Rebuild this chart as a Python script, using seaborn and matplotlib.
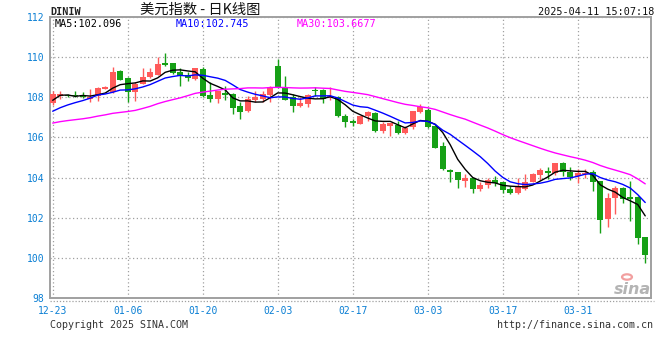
import numpy as np
import pandas as pd
import matplotlib.pyplot as plt
import seaborn as sns
from matplotlib.lines import Line2D
from matplotlib.patches import Circle

# DINIW daily candles, 2024-12-23 .. 2025-04-11 (80 sessions)
opens = [107.73, 108.05, 108.12, 108.12, 108.10, 107.93, 108.08, 108.43, 108.25, 109.30,
         108.95, 108.25, 108.67, 109.00, 109.12, 109.72, 109.70, 109.25, 109.12, 108.92,
         109.42, 108.12, 107.92, 108.20, 108.17, 107.58, 107.33, 107.88, 107.92, 108.13,
         109.58, 108.47, 108.00, 107.58, 107.67, 108.38, 108.38, 107.95, 108.00, 107.05,
         106.83, 106.67, 107.05, 107.22, 106.33, 106.55, 106.63, 106.22, 106.50, 107.25,
         107.37, 106.58, 105.58, 104.37, 104.26, 103.84, 103.97, 103.45, 103.61, 103.89,
         103.77, 103.45, 103.24, 103.45, 103.80, 104.13, 104.35, 104.25, 104.72, 104.30,
         104.10, 104.20, 104.27, 103.83, 101.93, 103.00, 103.47, 103.02, 103.02, 101.02]
highs = [108.30, 108.33, 108.17, 108.30, 108.25, 108.42, 108.50, 108.55, 109.50, 109.35,
         109.00, 108.75, 109.45, 109.45, 110.00, 110.22, 109.72, 109.45, 109.25, 109.47,
         109.50, 108.75, 108.32, 108.58, 108.20, 107.75, 108.08, 108.33, 108.33, 108.58,
         109.92, 109.08, 108.17, 108.00, 108.15, 108.50, 108.40, 108.50, 108.08, 107.17,
         106.92, 107.05, 107.30, 107.25, 106.75, 106.72, 106.80, 106.55, 107.32, 107.67,
         107.45, 106.60, 105.78, 104.42, 104.28, 104.16, 104.00, 103.80, 104.00, 104.10,
         103.80, 103.56, 103.97, 104.16, 104.22, 104.50, 104.52, 104.73, 104.77, 104.55,
         104.43, 104.43, 104.38, 103.85, 103.22, 103.58, 103.55, 103.83, 103.08, 101.05]
lows = [107.60, 107.92, 108.00, 108.00, 107.95, 107.75, 107.83, 108.40, 108.22, 108.85,
        107.75, 107.83, 108.65, 108.95, 109.10, 109.58, 109.18, 108.58, 108.83, 108.85,
        108.00, 107.75, 107.72, 107.88, 107.17, 106.92, 107.28, 107.75, 107.75, 107.75,
        108.45, 107.85, 107.28, 107.50, 107.50, 108.08, 107.72, 107.88, 107.00, 106.50,
        106.58, 106.65, 106.83, 106.25, 106.22, 106.08, 106.17, 106.17, 106.42, 107.20,
        106.45, 105.45, 104.40, 103.80, 103.48, 103.51, 103.24, 103.35, 103.50, 103.56,
        103.24, 103.19, 103.20, 103.40, 103.78, 103.88, 103.93, 104.13, 104.10, 103.88,
        103.75, 103.97, 103.33, 101.22, 101.52, 102.17, 102.72, 101.83, 100.67, 99.72]
closes = [108.15, 108.15, 108.08, 108.05, 108.02, 108.00, 108.48, 108.50, 109.28, 108.88,
          108.25, 108.67, 109.00, 109.25, 109.67, 109.63, 109.20, 109.08, 108.98, 109.45,
          108.05, 107.92, 108.30, 108.13, 107.47, 107.28, 107.92, 108.00, 108.17, 108.53,
          108.47, 107.88, 107.58, 107.72, 108.12, 108.30, 107.92, 108.08, 107.05, 106.78,
          106.70, 107.05, 107.25, 106.33, 106.67, 106.70, 106.22, 106.47, 107.30, 107.53,
          106.50, 105.47, 104.42, 104.26, 103.89, 104.00, 103.45, 103.61, 103.89, 103.72,
          103.40, 103.24, 103.51, 103.80, 104.20, 104.38, 104.25, 104.72, 104.27, 104.05,
          104.25, 104.25, 103.77, 101.88, 102.97, 103.50, 102.93, 102.93, 100.97, 100.13]
# closes of the 29 sessions before the window, needed for the moving averages
prior_closes = [106.0, 106.5, 106.7, 106.7, 106.3, 106.2, 106.6, 107.0, 107.5, 106.9,
                107.0, 106.1, 106.1, 105.7, 106.4, 106.4, 106.4, 105.7, 106.0, 106.2,
                106.4, 106.7, 106.9, 107.0, 106.8, 106.9, 108.0, 108.4, 107.8]

tick_pos = [0, 10, 20, 30, 40, 50, 60, 70]
tick_labels = ['12-23', '01-06', '01-20', '02-03', '02-17', '03-03', '03-17', '03-31']
y_ticks = [98, 100, 102, 104, 106, 108, 110, 112]
ma_windows = [5, 10, 30]
ma_text = ['MA5:102.096', 'MA10:102.745', 'MA30:103.6677']

UP = '#ff5a5a'
DOWN = '#16a016'
MA_COLORS = ['#000000', '#0000ff', '#ff00ff']
BLUE = '#0a7fd4'
GRID = '#a0a0a0'

df = pd.DataFrame({'open': opens, 'high': highs, 'low': lows, 'close': closes})
df['x'] = np.arange(len(df))

all_close = pd.Series(prior_closes + closes)
n_prior = len(prior_closes)
ma_rows = []
for w in ma_windows:
    ma = all_close.rolling(w).mean().iloc[n_prior:].to_numpy()
    ma_rows.append(pd.DataFrame({'x': df['x'], 'value': ma, 'ma': f'MA{w}'}))
ma_df = pd.concat(ma_rows, ignore_index=True)

sns.set_theme(style='white')
plt.rcParams['font.family'] = ['DejaVu Sans Mono', 'Noto Sans CJK SC']

fig = plt.figure(figsize=(6.6, 3.6), dpi=100)
ax = fig.add_axes([50 / 660, 1 - 298 / 360, 601 / 660, 281 / 360])

# candles
colors = np.where(df['close'] >= df['open'], UP, DOWN)
ax.vlines(df['x'], df['low'], df['high'], colors=colors, lw=1, zorder=2)
body_low = np.minimum(df['open'], df['close'])
body_h = np.maximum((df['close'] - df['open']).abs(), 0.05)
ax.bar(df['x'], body_h, bottom=body_low, width=0.76, color=colors, linewidth=0, zorder=3)

# moving averages
sns.lineplot(data=ma_df, x='x', y='value', hue='ma', palette=MA_COLORS,
             linewidth=1, legend=False, ax=ax, zorder=4)

ax.set_xlim(-0.36, 79.77)
ax.set_ylim(98, 112)
ax.set_xticks(tick_pos)
ax.set_xticklabels(tick_labels)
ax.set_yticks(y_ticks)
ax.set_xlabel('')
ax.set_ylabel('')
ax.tick_params(axis='both', length=0, labelsize=7, labelcolor=BLUE)
ax.tick_params(axis='x', pad=6)
ax.tick_params(axis='y', pad=4)
ax.grid(True, color=GRID, linestyle=(0, (1, 2)), linewidth=0.9)
ax.set_axisbelow(True)
for s in ax.spines.values():
    s.set_color(GRID)
    s.set_linewidth(1.4)

for txt, col, px in zip(ma_text, MA_COLORS, [55, 176, 297]):
    ax.text((px - 50) / 601, 0.976, txt, transform=ax.transAxes, color=col,
            fontsize=7.3, va='center', ha='left')

# dotted rule under the axis
fig.add_artist(Line2D([50 / 660, 654 / 660], [1 - 301 / 360] * 2, color=GRID,
                      linestyle=(0, (1, 1.5)), linewidth=0.9))

fig.text(50 / 660, 1 - 12 / 360, 'DINIW', fontsize=7.3, fontweight='bold',
         color='#222222', va='center', ha='left')
fig.text(140 / 660, 1 - 10 / 360, '美元指数 - 日K线图', fontsize=10.3, color='#111111',
         va='center', ha='left', family=['Noto Sans CJK SC', 'DejaVu Sans'])
fig.text(654 / 660, 1 - 12 / 360, '2025-04-11 15:07:18', fontsize=7.3,
         color='#111111', va='center', ha='right')
fig.text(50 / 660, 1 - 325 / 360, 'Copyright 2025 SINA.COM', fontsize=7.2,
         color='#333333', va='center', ha='left')
fig.text(653 / 660, 1 - 325 / 360, 'http://finance.sina.com.cn', fontsize=7.2,
         color='#333333', va='center', ha='right')

# sina watermark
fig.add_artist(Circle((627 / 660, 1 - 277 / 360), 0.0075, transform=fig.transFigure,
                      facecolor='none', edgecolor='#f2a0a0', linewidth=1.6))
fig.text(632 / 660, 1 - 289 / 360, 'sina', fontsize=11.5, fontweight='bold',
         style='italic', color='#b4b4b4', va='center', ha='center',
         family=['DejaVu Sans'])

fig.savefig('out.png', dpi=100, facecolor='white')
